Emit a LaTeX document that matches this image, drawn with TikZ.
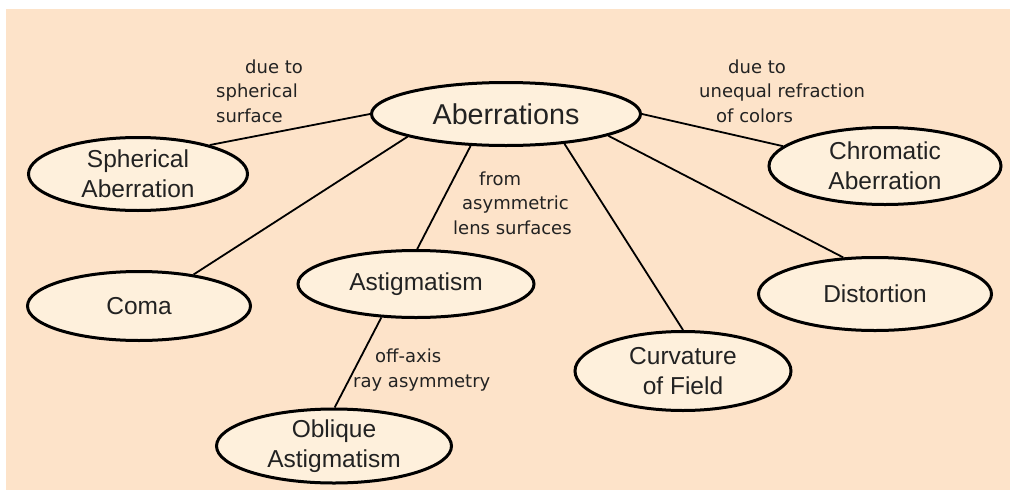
\documentclass[tikz,border=0pt]{standalone}
\usepackage{fontspec}
\setmainfont{Liberation Sans}
\newfontfamily\notefont{DejaVu Sans}
\usetikzlibrary{shapes.geometric}
\definecolor{peach}{RGB}{253,227,201}
\definecolor{cream}{RGB}{254,240,220}
\definecolor{ink}{RGB}{34,34,34}

\begin{document}
\begin{tikzpicture}[x=1pt,y=-1pt,
  oval/.style={ellipse,draw,line width=3pt,fill=cream,text=ink,inner xsep=0pt,inner ysep=-10pt,align=center,font=\fontsize{24.5}{30}\selectfont},
  note/.style={align=left,text=ink,inner sep=0pt,font=\notefont\fontsize{18}{24.5}\selectfont},
  link/.style={line width=1.8pt}]
\useasboundingbox (0,0) rectangle (1012,490);
\fill[white] (0,0) rectangle (1012,490);
\fill[peach] (6,9) rectangle (1010,490);
\node [oval,minimum width=269pt,minimum height=63pt,font=\fontsize{28.7}{34}\selectfont] (a) at (506,114) {Aberrations};
\node [oval,minimum width=219pt,minimum height=73pt] (s) at (138,174) {Spherical\\Aberration};
\node [oval,minimum width=232pt,minimum height=77pt] (ch) at (885,166) {Chromatic\\Aberration};
\node [oval,minimum width=223pt,minimum height=69pt] (co) at (139,306) {Coma};
\node [oval,minimum width=236pt,minimum height=67pt] (as) at (416,284) {Astigmatism};
\node [oval,minimum width=216pt,minimum height=79pt] (cf) at (683,371) {Curvature\\of Field};
\node [oval,minimum width=233pt,minimum height=73pt] (d) at (875,294) {Distortion};
\node [oval,minimum width=235pt,minimum height=74pt] (o) at (334,446) {Oblique\\Astigmatism};
\draw [link] (a.180) -- (s.22);
\draw [link] (a.193) -- (co.30);
\draw [link] (a.222) -- (as.88);
\draw [link] (a.333) -- (cf.90);
\draw [link] (a.348) -- (d.131);
\draw [link] (a.0) -- (ch.169);
\draw [link] (as.224) -- (o.89);
\node [note,anchor=west] (n1) at (216,91) {\hspace{29pt}due to\\spherical\\surface};
\node [note,anchor=west] (n2) at (699,91) {\hspace{29pt}due to\\unequal refraction\\\hspace{17pt}of colors};
\node [note,anchor=west] (n3) at (453,203) {\hspace{26pt}from\\\hspace{9pt}asymmetric\\lens surfaces};
\node [note,anchor=west] (n4) at (353,370) {\hspace{22pt}off-axis\\ray asymmetry};
\end{tikzpicture}
\end{document}
